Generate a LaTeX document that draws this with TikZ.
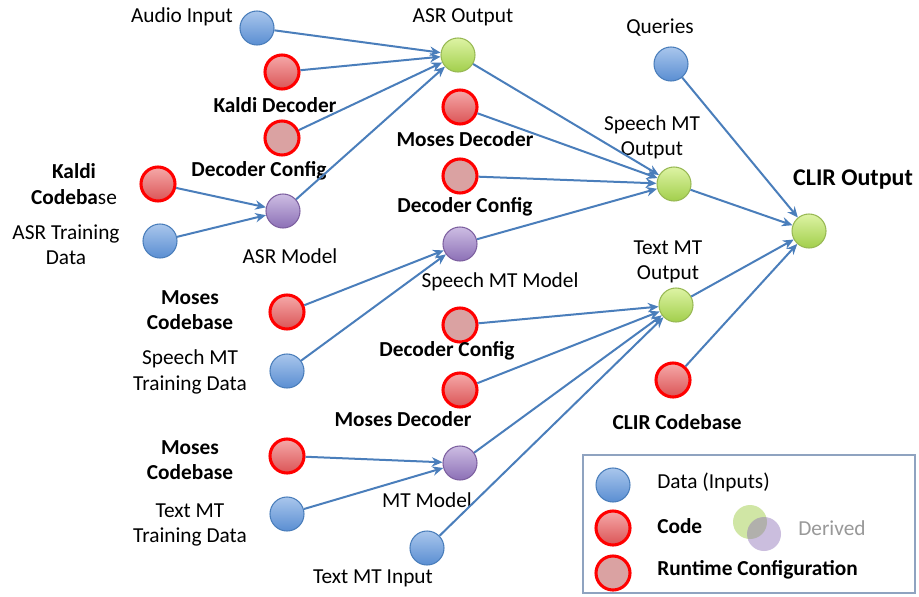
\documentclass[tikz,border=0pt]{standalone}
\usepackage{fontspec}
\setmainfont{Carlito}
\usetikzlibrary{arrows.meta}
\definecolor{arrowc}{HTML}{4A7EBB}
\definecolor{bluetop}{HTML}{A9C6EC}
\definecolor{bluebot}{HTML}{5A8ED2}
\definecolor{bluedraw}{HTML}{4A7EBB}
\definecolor{redtop}{HTML}{F5A9A9}
\definecolor{redbot}{HTML}{DB5456}
\definecolor{cfgfill}{HTML}{DAA2A2}
\definecolor{greentop}{HTML}{DDF3A4}
\definecolor{greenbot}{HTML}{A2CF4C}
\definecolor{greendraw}{HTML}{98B954}
\definecolor{purptop}{HTML}{CDBDE3}
\definecolor{purpbot}{HTML}{8C70B6}
\definecolor{purpdraw}{HTML}{7D60A0}
\definecolor{legdraw}{HTML}{8FA3C0}
\begin{document}
\begin{tikzpicture}[x=0.75pt,y=-0.75pt,
  every node/.style={font=\fontsize{16}{19}\selectfont},
  dot/.style={circle,minimum size=25.5pt,inner sep=0pt},
  datanode/.style={dot,draw=bluedraw,line width=0.8pt,top color=bluetop,bottom color=bluebot},
  codenode/.style={dot,draw=red,line width=2.3pt,top color=redtop,bottom color=redbot},
  cfgnode/.style={dot,draw=red,line width=2.3pt,fill=cfgfill},
  outnode/.style={dot,draw=greendraw,line width=0.8pt,top color=greentop,bottom color=greenbot},
  modelnode/.style={dot,draw=purpdraw,line width=0.8pt,top color=purptop,bottom color=purpbot},
  lbl/.style={align=center,inner sep=0pt},
  blbl/.style={lbl,font=\fontsize{16}{19}\selectfont\bfseries},
  conn/.style={draw=arrowc,line width=1.5pt,-{Stealth[length=8pt,width=7pt]}},
]
\useasboundingbox (0,0) rectangle (919,596);
\fill[white] (0,0) rectangle (919,596);

% legend box
\draw[legdraw,line width=0.8pt] (583,455) rectangle (915,593);

% ASR part
\node[datanode] (audio) at (257,28) {};
\node[codenode] (kdec) at (282,72) {};
\node[cfgnode] (kcfg) at (282,138) {};
\node[codenode] (kcode) at (158,184) {};
\node[datanode] (asrtrain) at (160,241) {};
\node[modelnode] (asrmodel) at (283,211) {};
\node[outnode] (asrout) at (458,55) {};

% Speech MT part
\node[codenode] (mdec1) at (460,107) {};
\node[cfgnode] (mcfg1) at (460,176) {};
\node[modelnode] (smtmodel) at (460,244) {};
\node[codenode] (mcode1) at (287,312) {};
\node[datanode] (smttrain) at (287,371) {};
\node[outnode] (smtout) at (674,184) {};

% Text MT part
\node[cfgnode] (mcfg2) at (460,325) {};
\node[codenode] (mdec2) at (460,390) {};
\node[codenode] (mcode2) at (287,456) {};
\node[datanode] (tmttrain) at (287,514) {};
\node[modelnode] (mtmodel) at (460,463) {};
\node[datanode] (tmtin) at (427,548) {};
\node[outnode] (tmtout) at (676,305) {};

% CLIR
\node[datanode] (queries) at (671,64) {};
\node[codenode] (clircode) at (673,380) {};
\node[outnode] (clirout) at (809,231) {};

% labels
\node[lbl] (l-audio) at (182,17) {Audio Input};
\node[blbl] (l-kdec) at (275,105) {Kaldi Decoder};
\node[blbl] (l-kcfg) at (259,171) {Decoder Config};
\node[blbl] (l-kcode) at (74,184) {Kaldi\\Codeba{\mdseries se}};
\node[lbl] (l-asrtrain) at (66,245) {ASR Training\\Data};
\node[lbl] (l-asrmodel) at (290,256) {ASR Model};
\node[lbl] (l-asrout) at (463,17) {ASR Output};
\node[blbl] (l-mdec1) at (465,139) {Moses Decoder};
\node[blbl] (l-mcfg1) at (465,207) {Decoder Config};
\node[lbl] (l-smtmodel) at (500,282) {Speech MT Model};
\node[blbl] (l-mcode1) at (190,310) {Moses\\Codebase};
\node[lbl] (l-smttrain) at (190,372) {Speech MT\\Training Data};
\node[lbl] (l-queries) at (660,28) {Queries};
\node[lbl] (l-smtout) at (652,137) {Speech MT\\Output};
\node[lbl] (l-tmtout) at (668,262) {Text MT\\Output};
\node[blbl,font=\fontsize{18}{21}\selectfont\bfseries] (l-clirout) at (853,180) {CLIR Output};
\node[blbl] (l-mcfg2) at (447,351) {Decoder Config};
\node[blbl] (l-mdec2) at (403,419) {Moses Decoder};
\node[blbl] (l-clircode) at (677,422) {CLIR Codebase};
\node[blbl] (l-mcode2) at (190,460) {Moses\\Codebase};
\node[lbl] (l-tmttrain) at (190,525) {Text MT\\Training Data};
\node[lbl] (l-mtmodel) at (427,500) {MT Model};
\node[lbl] (l-tmtin) at (373,578) {Text MT Input};

% connectors
\draw[conn] (audio) -- (asrout);
\draw[conn] (kdec) -- (asrout);
\draw[conn] (kcfg) -- (asrout);
\draw[conn] (asrmodel) -- (asrout);
\draw[conn] (kcode) -- (asrmodel);
\draw[conn] (asrtrain) -- (asrmodel);
\draw[conn] (asrout) -- (smtout);
\draw[conn] (mdec1) -- (smtout);
\draw[conn] (mcfg1) -- (smtout);
\draw[conn] (smtmodel) -- (smtout);
\draw[conn] (mcode1) -- (smtmodel);
\draw[conn] (smttrain) -- (smtmodel);
\draw[conn] (mcfg2) -- (tmtout);
\draw[conn] (mdec2) -- (tmtout);
\draw[conn] (mtmodel) -- (tmtout);
\draw[conn] (tmtin) -- (tmtout);
\draw[conn] (mcode2) -- (mtmodel);
\draw[conn] (tmttrain) -- (mtmodel);
\draw[conn] (queries) -- (clirout);
\draw[conn] (smtout) -- (clirout);
\draw[conn] (tmtout) -- (clirout);
\draw[conn] (clircode) -- (clirout);

% legend
\node[datanode] (leg-data) at (613,485) {};
\node[codenode] (leg-code) at (613,528) {};
\node[cfgnode] (leg-cfg) at (613,573) {};
\node[dot,fill=greenbot,opacity=0.5] (leg-g) at (750,522) {};
\node[dot,fill=purpbot,opacity=0.45] (leg-p) at (764,534) {};
\node[lbl,anchor=west] (leg-t1) at (657,482) {Data (Inputs)};
\node[blbl,anchor=west] (leg-t2) at (657,526) {Code};
\node[lbl,anchor=west,text=black!40] (leg-t4) at (798,528) {Derived};
\node[blbl,anchor=west] (leg-t3) at (657,570) {Runtime Configuration};
\end{tikzpicture}
\end{document}
